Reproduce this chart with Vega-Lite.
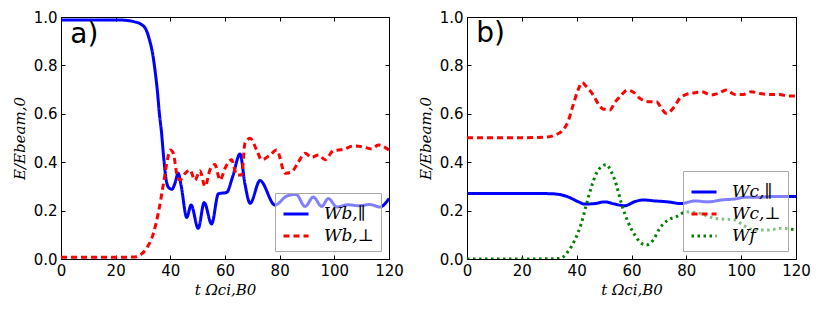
{
  "$schema": "https://vega.github.io/schema/vega-lite/v6.json",
  "padding": {"left": 11, "top": 9, "right": 0, "bottom": 5},
  "datasets": {
    "a": [
      {"t": 0, "v": 0.988, "s": "Wb,∥"}, {"t": 10, "v": 0.988, "s": "Wb,∥"}, {"t": 20, "v": 0.988, "s": "Wb,∥"},
      {"t": 24, "v": 0.986, "s": "Wb,∥"}, {"t": 27, "v": 0.98, "s": "Wb,∥"}, {"t": 29, "v": 0.972, "s": "Wb,∥"},
      {"t": 31, "v": 0.95, "s": "Wb,∥"}, {"t": 32.5, "v": 0.9, "s": "Wb,∥"}, {"t": 33.5, "v": 0.85, "s": "Wb,∥"},
      {"t": 34.5, "v": 0.77, "s": "Wb,∥"}, {"t": 35.3, "v": 0.69, "s": "Wb,∥"}, {"t": 36, "v": 0.6, "s": "Wb,∥"},
      {"t": 36.8, "v": 0.52, "s": "Wb,∥"}, {"t": 37.4, "v": 0.44, "s": "Wb,∥"}, {"t": 38, "v": 0.37, "s": "Wb,∥"},
      {"t": 38.6, "v": 0.32, "s": "Wb,∥"}, {"t": 39.4, "v": 0.295, "s": "Wb,∥"}, {"t": 40.6, "v": 0.288, "s": "Wb,∥"},
      {"t": 41.6, "v": 0.31, "s": "Wb,∥"}, {"t": 42.9, "v": 0.354, "s": "Wb,∥"}, {"t": 44, "v": 0.3, "s": "Wb,∥"},
      {"t": 46, "v": 0.172, "s": "Wb,∥"}, {"t": 47.6, "v": 0.223, "s": "Wb,∥"}, {"t": 50.2, "v": 0.127, "s": "Wb,∥"},
      {"t": 52.4, "v": 0.233, "s": "Wb,∥"}, {"t": 55.1, "v": 0.145, "s": "Wb,∥"}, {"t": 57.6, "v": 0.27, "s": "Wb,∥"},
      {"t": 60.6, "v": 0.275, "s": "Wb,∥"}, {"t": 62.8, "v": 0.34, "s": "Wb,∥"}, {"t": 65.5, "v": 0.434, "s": "Wb,∥"},
      {"t": 67.3, "v": 0.31, "s": "Wb,∥"}, {"t": 69.2, "v": 0.23, "s": "Wb,∥"}, {"t": 72.8, "v": 0.324, "s": "Wb,∥"},
      {"t": 78.3, "v": 0.223, "s": "Wb,∥"}, {"t": 82.6, "v": 0.26, "s": "Wb,∥"}, {"t": 86, "v": 0.267, "s": "Wb,∥"},
      {"t": 89.3, "v": 0.217, "s": "Wb,∥"}, {"t": 92.3, "v": 0.256, "s": "Wb,∥"}, {"t": 95.4, "v": 0.217, "s": "Wb,∥"},
      {"t": 97.8, "v": 0.25, "s": "Wb,∥"}, {"t": 100.9, "v": 0.215, "s": "Wb,∥"}, {"t": 105, "v": 0.224, "s": "Wb,∥"},
      {"t": 109, "v": 0.22, "s": "Wb,∥"}, {"t": 113, "v": 0.225, "s": "Wb,∥"}, {"t": 116.7, "v": 0.215, "s": "Wb,∥"},
      {"t": 120, "v": 0.25, "s": "Wb,∥"},
      {"t": 0, "v": 0.007, "s": "Wb,⊥"}, {"t": 15, "v": 0.007, "s": "Wb,⊥"}, {"t": 26.5, "v": 0.008, "s": "Wb,⊥"},
      {"t": 29, "v": 0.017, "s": "Wb,⊥"}, {"t": 31.3, "v": 0.044, "s": "Wb,⊥"}, {"t": 33.8, "v": 0.106, "s": "Wb,⊥"},
      {"t": 35.6, "v": 0.19, "s": "Wb,⊥"}, {"t": 37.4, "v": 0.306, "s": "Wb,⊥"}, {"t": 38.7, "v": 0.395, "s": "Wb,⊥"},
      {"t": 39.9, "v": 0.45, "s": "Wb,⊥"}, {"t": 41.1, "v": 0.437, "s": "Wb,⊥"}, {"t": 42.3, "v": 0.355, "s": "Wb,⊥"},
      {"t": 43.5, "v": 0.326, "s": "Wb,⊥"}, {"t": 45.4, "v": 0.354, "s": "Wb,⊥"}, {"t": 47.2, "v": 0.368, "s": "Wb,⊥"},
      {"t": 49, "v": 0.326, "s": "Wb,⊥"}, {"t": 50.8, "v": 0.365, "s": "Wb,⊥"}, {"t": 52.7, "v": 0.3, "s": "Wb,⊥"},
      {"t": 54.5, "v": 0.368, "s": "Wb,⊥"}, {"t": 56.3, "v": 0.39, "s": "Wb,⊥"}, {"t": 58.2, "v": 0.326, "s": "Wb,⊥"},
      {"t": 60, "v": 0.375, "s": "Wb,⊥"}, {"t": 62.4, "v": 0.41, "s": "Wb,⊥"}, {"t": 64.3, "v": 0.347, "s": "Wb,⊥"},
      {"t": 66.1, "v": 0.347, "s": "Wb,⊥"}, {"t": 67.3, "v": 0.478, "s": "Wb,⊥"}, {"t": 69.2, "v": 0.499, "s": "Wb,⊥"},
      {"t": 71.6, "v": 0.45, "s": "Wb,⊥"}, {"t": 73.4, "v": 0.41, "s": "Wb,⊥"}, {"t": 76.5, "v": 0.43, "s": "Wb,⊥"},
      {"t": 78.9, "v": 0.45, "s": "Wb,⊥"}, {"t": 82, "v": 0.354, "s": "Wb,⊥"}, {"t": 84.4, "v": 0.36, "s": "Wb,⊥"},
      {"t": 86.8, "v": 0.4, "s": "Wb,⊥"}, {"t": 89.3, "v": 0.437, "s": "Wb,⊥"}, {"t": 91.7, "v": 0.42, "s": "Wb,⊥"},
      {"t": 94.2, "v": 0.43, "s": "Wb,⊥"}, {"t": 96.6, "v": 0.41, "s": "Wb,⊥"}, {"t": 99.6, "v": 0.447, "s": "Wb,⊥"},
      {"t": 103.3, "v": 0.453, "s": "Wb,⊥"}, {"t": 107, "v": 0.467, "s": "Wb,⊥"}, {"t": 110.6, "v": 0.463, "s": "Wb,⊥"},
      {"t": 113.7, "v": 0.455, "s": "Wb,⊥"}, {"t": 116.1, "v": 0.471, "s": "Wb,⊥"}, {"t": 120, "v": 0.45, "s": "Wb,⊥"}
    ],
    "b": [
      {"t": 0, "v": 0.271, "s": "Wc,∥"}, {"t": 20, "v": 0.271, "s": "Wc,∥"}, {"t": 30, "v": 0.27, "s": "Wc,∥"},
      {"t": 33.5, "v": 0.267, "s": "Wc,∥"}, {"t": 36.8, "v": 0.257, "s": "Wc,∥"}, {"t": 40.5, "v": 0.237, "s": "Wc,∥"},
      {"t": 42.9, "v": 0.227, "s": "Wc,∥"}, {"t": 46.6, "v": 0.229, "s": "Wc,∥"}, {"t": 50.2, "v": 0.236, "s": "Wc,∥"},
      {"t": 53.9, "v": 0.227, "s": "Wc,∥"}, {"t": 57.5, "v": 0.22, "s": "Wc,∥"}, {"t": 61.2, "v": 0.237, "s": "Wc,∥"},
      {"t": 64.2, "v": 0.244, "s": "Wc,∥"}, {"t": 68.5, "v": 0.24, "s": "Wc,∥"}, {"t": 73.3, "v": 0.236, "s": "Wc,∥"},
      {"t": 78.2, "v": 0.229, "s": "Wc,∥"}, {"t": 83.1, "v": 0.24, "s": "Wc,∥"}, {"t": 87.9, "v": 0.236, "s": "Wc,∥"},
      {"t": 92.8, "v": 0.244, "s": "Wc,∥"}, {"t": 97.7, "v": 0.248, "s": "Wc,∥"}, {"t": 101.3, "v": 0.255, "s": "Wc,∥"},
      {"t": 106.2, "v": 0.255, "s": "Wc,∥"}, {"t": 111, "v": 0.258, "s": "Wc,∥"}, {"t": 120, "v": 0.258, "s": "Wc,∥"},
      {"t": 0, "v": 0.501, "s": "Wc,⊥"}, {"t": 20, "v": 0.501, "s": "Wc,⊥"}, {"t": 28.9, "v": 0.504, "s": "Wc,⊥"},
      {"t": 32, "v": 0.512, "s": "Wc,⊥"}, {"t": 35, "v": 0.533, "s": "Wc,⊥"}, {"t": 36.8, "v": 0.567, "s": "Wc,⊥"},
      {"t": 38.7, "v": 0.636, "s": "Wc,⊥"}, {"t": 40.5, "v": 0.698, "s": "Wc,⊥"}, {"t": 42, "v": 0.729, "s": "Wc,⊥"},
      {"t": 43.5, "v": 0.713, "s": "Wc,⊥"}, {"t": 46, "v": 0.678, "s": "Wc,⊥"}, {"t": 47.8, "v": 0.643, "s": "Wc,⊥"},
      {"t": 49.6, "v": 0.62, "s": "Wc,⊥"}, {"t": 52.1, "v": 0.616, "s": "Wc,⊥"}, {"t": 53.9, "v": 0.646, "s": "Wc,⊥"},
      {"t": 56.3, "v": 0.678, "s": "Wc,⊥"}, {"t": 58.5, "v": 0.698, "s": "Wc,⊥"}, {"t": 60.6, "v": 0.69, "s": "Wc,⊥"},
      {"t": 63, "v": 0.664, "s": "Wc,⊥"}, {"t": 66, "v": 0.65, "s": "Wc,⊥"}, {"t": 69.1, "v": 0.65, "s": "Wc,⊥"},
      {"t": 70.9, "v": 0.623, "s": "Wc,⊥"}, {"t": 72.7, "v": 0.602, "s": "Wc,⊥"}, {"t": 75.2, "v": 0.623, "s": "Wc,⊥"},
      {"t": 77.6, "v": 0.664, "s": "Wc,⊥"}, {"t": 80, "v": 0.68, "s": "Wc,⊥"}, {"t": 83.1, "v": 0.687, "s": "Wc,⊥"},
      {"t": 85.5, "v": 0.691, "s": "Wc,⊥"}, {"t": 89.1, "v": 0.678, "s": "Wc,⊥"}, {"t": 91.6, "v": 0.684, "s": "Wc,⊥"},
      {"t": 94.6, "v": 0.698, "s": "Wc,⊥"}, {"t": 97.7, "v": 0.68, "s": "Wc,⊥"}, {"t": 100.7, "v": 0.68, "s": "Wc,⊥"},
      {"t": 103.7, "v": 0.691, "s": "Wc,⊥"}, {"t": 106.8, "v": 0.684, "s": "Wc,⊥"}, {"t": 110.4, "v": 0.68, "s": "Wc,⊥"},
      {"t": 114.1, "v": 0.68, "s": "Wc,⊥"}, {"t": 116.5, "v": 0.674, "s": "Wc,⊥"}, {"t": 120, "v": 0.674, "s": "Wc,⊥"},
      {"t": 0, "v": 0.0, "s": "Wf"}, {"t": 20, "v": 0.0, "s": "Wf"}, {"t": 33.8, "v": 0.002, "s": "Wf"},
      {"t": 36.8, "v": 0.03, "s": "Wf"}, {"t": 39.3, "v": 0.078, "s": "Wf"}, {"t": 41.7, "v": 0.147, "s": "Wf"},
      {"t": 43.5, "v": 0.223, "s": "Wf"}, {"t": 45.4, "v": 0.299, "s": "Wf"}, {"t": 47.2, "v": 0.354, "s": "Wf"},
      {"t": 49, "v": 0.381, "s": "Wf"}, {"t": 50.8, "v": 0.39, "s": "Wf"}, {"t": 52.6, "v": 0.361, "s": "Wf"},
      {"t": 54.5, "v": 0.306, "s": "Wf"}, {"t": 56.3, "v": 0.23, "s": "Wf"}, {"t": 58.7, "v": 0.154, "s": "Wf"},
      {"t": 61.2, "v": 0.099, "s": "Wf"}, {"t": 63.6, "v": 0.065, "s": "Wf"}, {"t": 65.4, "v": 0.058, "s": "Wf"},
      {"t": 67.9, "v": 0.078, "s": "Wf"}, {"t": 70.3, "v": 0.127, "s": "Wf"}, {"t": 73.3, "v": 0.161, "s": "Wf"},
      {"t": 76.4, "v": 0.175, "s": "Wf"}, {"t": 80, "v": 0.195, "s": "Wf"}, {"t": 84.3, "v": 0.19, "s": "Wf"},
      {"t": 90.4, "v": 0.168, "s": "Wf"}, {"t": 97.7, "v": 0.161, "s": "Wf"}, {"t": 100.7, "v": 0.14, "s": "Wf"},
      {"t": 105, "v": 0.12, "s": "Wf"}, {"t": 109.8, "v": 0.12, "s": "Wf"}, {"t": 114.7, "v": 0.127, "s": "Wf"},
      {"t": 120, "v": 0.12, "s": "Wf"}
    ]
  },
  "config": {
    "view": {"stroke": "black", "strokeWidth": 1},
    "font": "DejaVu Sans",
    "axis": {
      "grid": false, "domain": false, "tickColor": "black", "tickSize": -4, "labelPadding": 8, "labelFlush": false,
      "labelFont": "DejaVu Sans", "labelFontSize": 15, "labelColor": "black",
      "titleFont": "DejaVu Serif", "titleFontStyle": "italic", "titleFontWeight": "normal",
      "titleFontSize": 15, "titleColor": "black"
    },
    "legend": {
      "orient": "bottom-right", "offset": 8, "fillColor": "rgba(255,255,255,0.5)", "strokeColor": "#aaaaaa",
      "padding": 7, "symbolType": "stroke", "symbolSize": 625, "symbolStrokeWidth": 3,
      "labelFont": "DejaVu Serif", "labelFontStyle": "italic", "labelFontSize": 17, "labelColor": "black",
      "labelOffset": 14, "rowPadding": -4, "title": null
    }
  },
  "resolve": {
    "scale": {"color": "independent", "strokeDash": "independent"},
    "legend": {"color": "independent", "strokeDash": "independent"}
  },
  "spacing": 13,
  "hconcat": [
    {
      "width": 328, "height": 242,
      "layer": [
        {
          "data": {"name": "a"},
          "mark": {"type": "line", "strokeWidth": 3, "interpolate": "monotone", "clip": true},
          "encoding": {
            "x": {"field": "t", "type": "quantitative", "scale": {"domain": [0, 120], "nice": false},
                  "axis": {"orient": "bottom", "values": [0, 20, 40, 60, 80, 100, 120], "title": "t Ωci,B0", "titlePadding": 4}},
            "y": {"field": "v", "type": "quantitative", "scale": {"domain": [0, 1], "nice": false},
                  "axis": {"orient": "left", "values": [0, 0.2, 0.4, 0.6, 0.8, 1.0], "format": ".1f", "title": "E/Ebeam,0", "titlePadding": 6}},
            "color": {"field": "s", "type": "nominal", "sort": null,
                      "scale": {"domain": ["Wb,∥", "Wb,⊥"], "range": ["#0000ff", "#ff0000"]}, "legend": {"title": null}},
            "strokeDash": {"field": "s", "type": "nominal", "sort": null,
                           "scale": {"domain": ["Wb,∥", "Wb,⊥"], "range": [[1, 0], [6, 4]]}, "legend": {"title": null}}
          }
        },
        {
          "data": {"values": [{"label": "a)"}]},
          "mark": {"type": "text", "fontSize": 28, "align": "left", "baseline": "alphabetic", "font": "DejaVu Sans", "color": "black"},
          "encoding": {
            "text": {"field": "label"},
            "x": {"datum": 3.4, "type": "quantitative",
                  "axis": {"orient": "top", "labels": false, "title": null, "values": [0, 20, 40, 60, 80, 100, 120]}},
            "y": {"datum": 0.894, "type": "quantitative",
                  "axis": {"orient": "right", "labels": false, "title": null, "values": [0, 0.2, 0.4, 0.6, 0.8, 1.0]}}
          }
        }
      ],
      "resolve": {"axis": {"x": "independent", "y": "independent"}}
    },
    {
      "width": 329, "height": 242,
      "layer": [
        {
          "data": {"name": "b"},
          "mark": {"type": "line", "strokeWidth": 3, "interpolate": "monotone", "clip": true},
          "encoding": {
            "x": {"field": "t", "type": "quantitative", "scale": {"domain": [0, 120], "nice": false},
                  "axis": {"orient": "bottom", "values": [0, 20, 40, 60, 80, 100, 120], "title": "t Ωci,B0", "titlePadding": 4}},
            "y": {"field": "v", "type": "quantitative", "scale": {"domain": [0, 1], "nice": false},
                  "axis": {"orient": "left", "values": [0, 0.2, 0.4, 0.6, 0.8, 1.0], "format": ".1f", "title": "E/Ebeam,0", "titlePadding": 6}},
            "color": {"field": "s", "type": "nominal", "sort": null,
                      "scale": {"domain": ["Wc,∥", "Wc,⊥", "Wf"], "range": ["#0000ff", "#ff0000", "#008000"]}, "legend": {"title": null}},
            "strokeDash": {"field": "s", "type": "nominal", "sort": null,
                           "scale": {"domain": ["Wc,∥", "Wc,⊥", "Wf"], "range": [[1, 0], [6, 4], [2.5, 3.5]]}, "legend": {"title": null}}
          }
        },
        {
          "data": {"values": [{"label": "b)"}]},
          "mark": {"type": "text", "fontSize": 28, "align": "left", "baseline": "alphabetic", "font": "DejaVu Sans", "color": "black"},
          "encoding": {
            "text": {"field": "label"},
            "x": {"datum": 3.4, "type": "quantitative",
                  "axis": {"orient": "top", "labels": false, "title": null, "values": [0, 20, 40, 60, 80, 100, 120]}},
            "y": {"datum": 0.897, "type": "quantitative",
                  "axis": {"orient": "right", "labels": false, "title": null, "values": [0, 0.2, 0.4, 0.6, 0.8, 1.0]}}
          }
        }
      ],
      "resolve": {"axis": {"x": "independent", "y": "independent"}}
    }
  ]
}
